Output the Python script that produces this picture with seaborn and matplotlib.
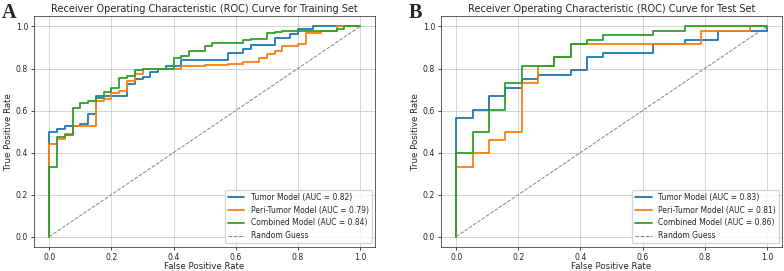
import numpy as np
import pandas as pd
import matplotlib
matplotlib.use('Agg')
import matplotlib.pyplot as plt
import seaborn as sns

# ROC vertices (fpr, tpr)
models = ['Tumor Model', 'Peri-Tumor Model', 'Combined Model']
colors = ['tab:blue', 'tab:orange', 'tab:green']

train_auc = [0.82, 0.79, 0.84]
test_auc = [0.83, 0.81, 0.86]

# training set: x where the curve rises, and the level it rises to
train_tumor_x = [0, 0.025, 0.05, 0.1, 0.125, 0.15, 0.25, 0.275, 0.3, 0.325, 0.35, 0.375,
                 0.425, 0.575, 0.625, 0.65, 0.725, 0.775, 0.8, 0.85, 1.0]
train_tumor_y = [0.50, 0.51, 0.525, 0.535, 0.585, 0.67, 0.725, 0.75, 0.76, 0.785, 0.80, 0.81,
                 0.84, 0.875, 0.895, 0.91, 0.945, 0.965, 0.99, 1.0, 1.0]
train_peri_x = [0, 0.025, 0.05, 0.075, 0.15, 0.175, 0.2, 0.225, 0.25, 0.275, 0.3, 0.425,
                0.5, 0.575, 0.625, 0.675, 0.7, 0.725, 0.75, 0.8, 0.825, 0.875, 0.925, 1.0]
train_peri_y = [0.44, 0.465, 0.49, 0.525, 0.645, 0.655, 0.685, 0.695, 0.74, 0.775, 0.80, 0.81,
                0.815, 0.82, 0.83, 0.85, 0.87, 0.885, 0.905, 0.915, 0.97, 0.98, 1.0, 1.0]
train_comb_x = [0, 0.025, 0.05, 0.075, 0.1, 0.125, 0.15, 0.175, 0.2, 0.225, 0.25, 0.275, 0.3,
                0.4, 0.425, 0.45, 0.5, 0.525, 0.625, 0.65, 0.7, 0.725, 0.75, 0.925, 0.95, 1.0]
train_comb_y = [0.33, 0.475, 0.485, 0.61, 0.635, 0.645, 0.66, 0.69, 0.705, 0.755, 0.765, 0.795, 0.80,
                0.85, 0.86, 0.885, 0.905, 0.92, 0.935, 0.94, 0.97, 0.975, 0.98, 0.99, 1.0, 1.0]

# test set
test_tumor_x = [0, 0.053, 0.105, 0.158, 0.211, 0.263, 0.368, 0.421, 0.474, 0.632, 0.737, 0.842, 1.0]
test_tumor_y = [0.5625, 0.604, 0.667, 0.708, 0.75, 0.771, 0.792, 0.854, 0.875, 0.917, 0.9375, 0.979, 1.0]
test_peri_x = [0, 0.053, 0.105, 0.158, 0.211, 0.263, 0.316, 0.368, 0.789, 0.947, 1.0]
test_peri_y = [0.333, 0.396, 0.458, 0.5, 0.729, 0.8125, 0.854, 0.917, 0.979, 1.0, 1.0]
test_comb_x = [0, 0.053, 0.105, 0.158, 0.211, 0.316, 0.368, 0.421, 0.474, 0.632, 0.737, 1.0]
test_comb_y = [0.396, 0.5, 0.604, 0.729, 0.8125, 0.854, 0.917, 0.9375, 0.958, 0.979, 1.0, 1.0]

diag = [0, 1]


def staircase(xs, ys):
    # turn rise points into roc-style vertices
    fx, fy = [0.0], [0.0]
    for x, y in zip(xs, ys):
        fx += [x, x]
        fy += [fy[-1], y]
    return fx, fy


def build_df(curves, aucs):
    rows = []
    for name, (xs, ys), auc in zip(models, curves, aucs):
        fx, fy = staircase(xs, ys)
        label = f'{name} (AUC = {auc:.2f})'
        rows.append(pd.DataFrame({'fpr': fx, 'tpr': fy, 'model': label}))
    return pd.concat(rows, ignore_index=True)


train_df = build_df([(train_tumor_x, train_tumor_y), (train_peri_x, train_peri_y),
                     (train_comb_x, train_comb_y)], train_auc)
test_df = build_df([(test_tumor_x, test_tumor_y), (test_peri_x, test_peri_y),
                    (test_comb_x, test_comb_y)], test_auc)

sns.set_style('ticks')
plt.rcParams['font.family'] = ['DejaVu Sans']

fig = plt.figure(figsize=(7.84, 2.71), dpi=100)
ax1 = fig.add_axes([0.0431, 0.088, 0.4358, 0.853])
ax2 = fig.add_axes([0.5621, 0.088, 0.4358, 0.853])

for ax, df, title in [(ax1, train_df, 'Training Set'), (ax2, test_df, 'Test Set')]:
    sns.lineplot(data=df, x='fpr', y='tpr', hue='model', palette=colors,
                 sort=False, estimator=None, lw=1.3, ax=ax)
    ax.plot(diag, diag, color='gray', ls='--', lw=0.7, label='Random Guess')
    ax.set_title(f'Receiver Operating Characteristic (ROC) Curve for {title}', fontsize=7, pad=3)
    ax.set_xlabel('False Positive Rate', fontsize=6.2, labelpad=0)
    ax.set_ylabel('True Positive Rate', fontsize=6.2, labelpad=2)
    ax.set_xlim(-0.05, 1.05)
    ax.set_ylim(-0.05, 1.05)
    ax.set_xticks(np.arange(0, 1.01, 0.2))
    ax.set_yticks(np.arange(0, 1.01, 0.2))
    ax.tick_params(labelsize=5.6, length=2.5, width=0.6, pad=1.5)
    ax.grid(True, color='#cccccc', lw=0.6)
    for s in ax.spines.values():
        s.set_linewidth(0.6)
        s.set_color('#444444')
    ax.legend(loc='lower right', fontsize=5.5, frameon=True, handlelength=2.2)

fig.text(0.002, 0.99, 'A', fontsize=14.5, fontweight='bold', family='Liberation Serif', va='top')
fig.text(0.521, 0.99, 'B', fontsize=14.5, fontweight='bold', family='Liberation Serif', va='top')

fig.savefig('out.png', dpi=100)
